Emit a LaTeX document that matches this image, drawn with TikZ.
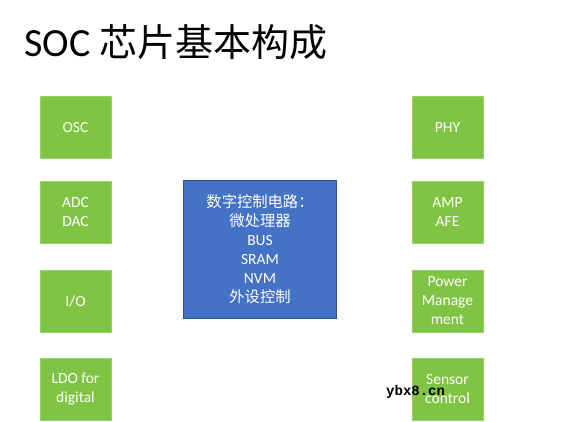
\documentclass[tikz,border=0pt]{standalone}
\usepackage{fontspec}
\setmainfont{Carlito}
\newfontfamily\cjk{Noto Sans CJK SC}
\newfontfamily\wmfont{Liberation Mono}
\definecolor{boxgreen}{RGB}{128,196,68}
\definecolor{boxgreenedge}{RGB}{150,210,100}
\definecolor{boxblue}{RGB}{68,114,196}
\definecolor{boxblueedge}{RGB}{47,82,143}
\begin{document}
\begin{tikzpicture}[x=1pt,y=-1pt,
  gbox/.style={fill=boxgreen,draw=boxgreenedge,line width=0.8pt,minimum width=71pt,minimum height=62pt,inner sep=0pt,text=white,font=\fontsize{15.5}{19}\selectfont,align=center},
  bbox/.style={fill=boxblue,draw=boxblueedge,line width=0.8pt,minimum width=153pt,minimum height=138pt,inner sep=0pt,text=white,font=\fontsize{15.5}{19}\selectfont,align=center}]
\useasboundingbox[fill=white] (0,0) rectangle (567,422);
\node[anchor=base west,inner sep=0pt,font=\fontsize{40}{44}\selectfont] (title) at (24,57) {SOC {\cjk\fontsize{38}{44}\selectfont 芯片基本构成}};
% left column
\node[gbox] (osc) at (75.5,127.5) {OSC};
\node[gbox] (adc) at (75.5,212) {ADC\\DAC};
\node[gbox] (io) at (75.5,301) {I/O};
\node[gbox] (ldo) at (75.5,389.5) {LDO for\\digital};
% right column
\node[gbox] (phy) at (447.5,127.5) {PHY};
\node[gbox] (amp) at (447.5,212) {AMP\\AFE};
\node[gbox] (pm) at (447.5,301) {Power\\Manage\\ment};
\node[gbox] (sc) at (447.5,389.5) {Sensor\\control};
% center
\node[bbox] (core) at (260,249) {{\cjk\fontsize{15.3}{19}\selectfont 数字控制电路：}\\{\cjk\fontsize{15.3}{19}\selectfont 微处理器}\\BUS\\SRAM\\NVM\\{\cjk\fontsize{15.3}{19}\selectfont 外设控制}};
% watermark
\node[anchor=west,inner sep=0pt,font=\wmfont\bfseries\fontsize{14}{14}\selectfont] (wm) at (386,392) {ybx8.cn};
\end{tikzpicture}
\end{document}
